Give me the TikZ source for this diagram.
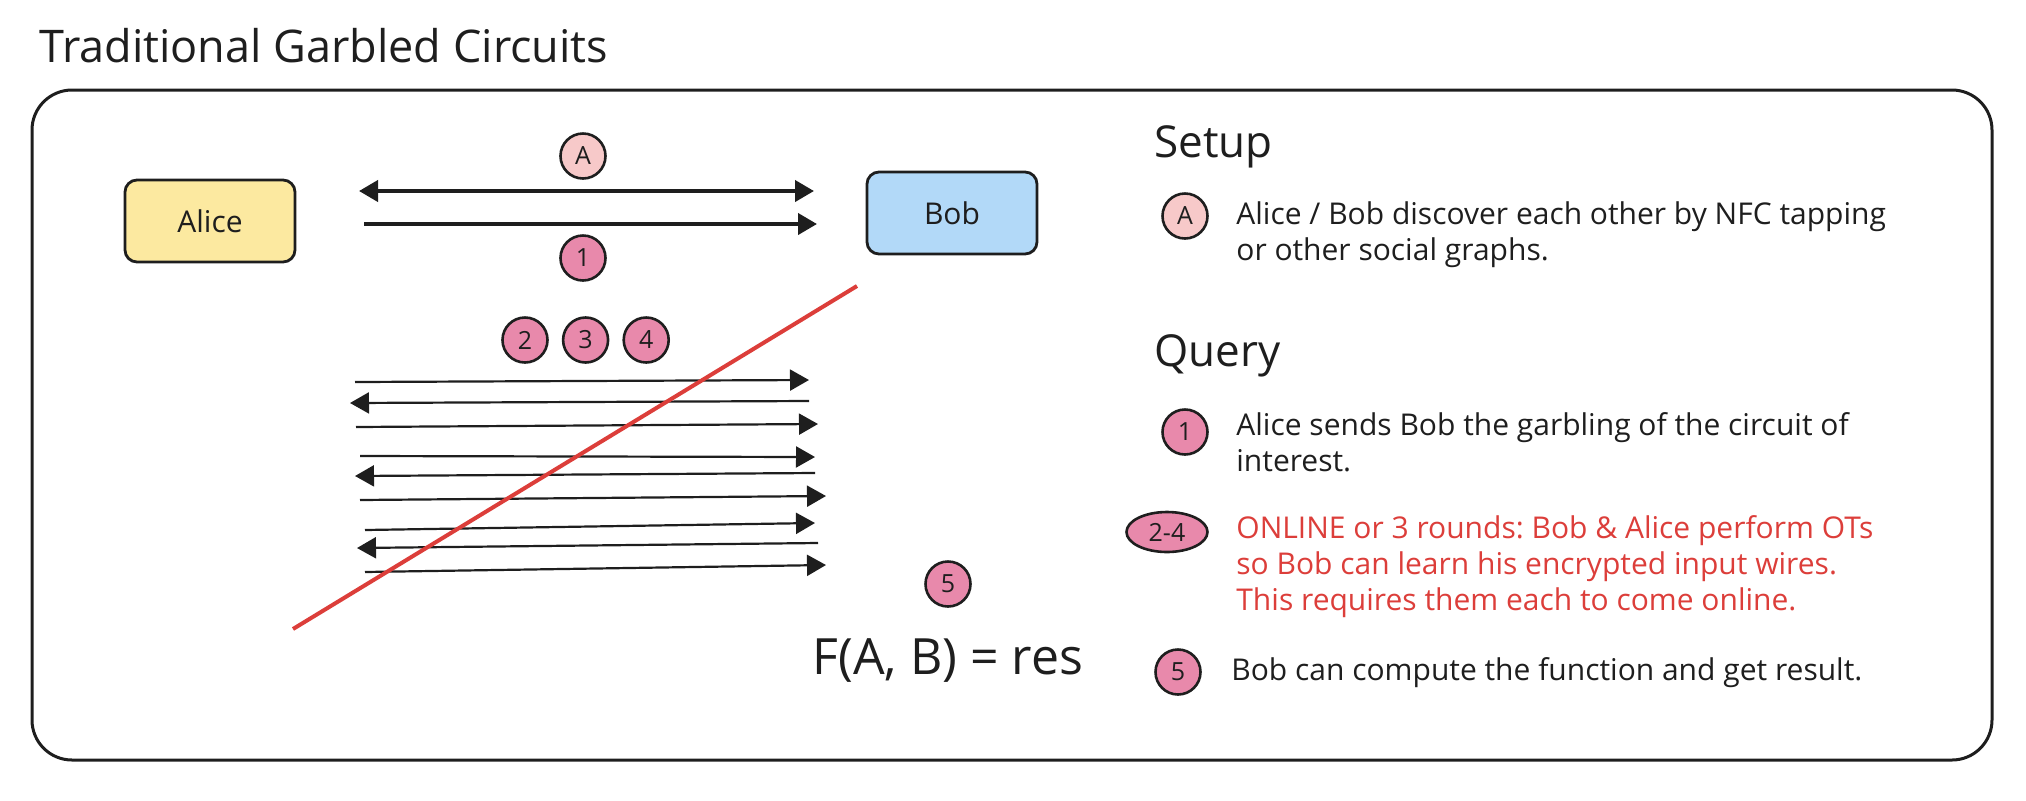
\documentclass[tikz,border=0pt]{standalone}
\usepackage{fontspec}
\setmainfont{Open Sans}
\usetikzlibrary{positioning}
\usetikzlibrary{shapes.geometric}
\usetikzlibrary{arrows.meta}
\frenchspacing

\definecolor{ink}{HTML}{1E1E1E}
\definecolor{aliceyellow}{HTML}{FCE9A0}
\definecolor{bobblue}{HTML}{B2D9F8}
\definecolor{badgelight}{HTML}{F7C9C9}
\definecolor{badgepink}{HTML}{E889AB}
\definecolor{warnred}{HTML}{DC3E3A}

\begin{document}
\begin{tikzpicture}[x=0.5pt,y=-0.5pt,>={Triangle[length=9.5pt,width=10.5pt]},draw=ink,text=ink]
\tikzstyle{party}=[draw=ink,line width=1.4pt,rounded corners=6pt,minimum width=85pt,minimum height=41pt,font=\fontsize{15}{17}\selectfont]
\tikzstyle{badge}=[circle,draw=ink,line width=1.3pt,minimum size=22.5pt,inner sep=0pt,font=\fontsize{12.5}{14}\selectfont]
\tikzstyle{txt}=[anchor=base west,align=left,inner sep=0pt,font=\fontsize{15}{18}\selectfont]
\tikzstyle{head}=[anchor=base west,inner sep=0pt,font=\fontsize{22}{26}\selectfont]
\tikzstyle{wire}=[line width=1.1pt]
\tikzstyle{talk}=[line width=2pt]

\useasboundingbox (0,0) rectangle (2026,800);

% title and frame
\node[head,font=\fontsize{22.5}{26}\selectfont] (title) at (39,62) {Traditional Garbled Circuits};
\draw[line width=1.5pt,rounded corners=20pt] (32,90) rectangle (1992,760);

% parties
\node[party,fill=aliceyellow]	(alice)	at (210,221)	{Alice};
\node[party,fill=bobblue]	(bob)	at (952,213)	{Bob};

\coordinate (dA1) at (359,191);	\coordinate (dA2) at (814,191);
\coordinate (d11) at (364,224);	\coordinate (d12) at (817,224);
\node[badge,fill=badgelight]	(bA)	at (583,156)	{A};
\node[badge,fill=badgepink]	(b1)	at (583,258)	{1};

\path (dA1)	edge[talk,<->]	(dA2)
	 (d11)	edge[talk,->]	(d12);

% OT rounds
\node[badge,fill=badgepink]	(b2)	at (525,340)	{2};
\node[badge,fill=badgepink]	(b3)	[right=6.5pt of b2]	{3};
\node[badge,fill=badgepink]	(b4)	[right=6.5pt of b3]	{4};

\coordinate (wl1) at (355,382);	\coordinate (wr1) at (809,380);
\coordinate (wl2) at (350,403);	\coordinate (wr2) at (809,401);
\coordinate (wl3) at (356,427);	\coordinate (wr3) at (818,424);
\coordinate (wl4) at (360,456);	\coordinate (wr4) at (815,457);
\coordinate (wl5) at (355,476);	\coordinate (wr5) at (815,473);
\coordinate (wl6) at (360,500);	\coordinate (wr6) at (826,496);
\coordinate (wl7) at (365,530);	\coordinate (wr7) at (815,523);
\coordinate (wl8) at (357,548);	\coordinate (wr8) at (818,543);
\coordinate (wl9) at (365,572);	\coordinate (wr9) at (826,565);

\path (wl1)	edge[wire,->]	(wr1)
	 (wr2)	edge[wire,->]	(wl2)
	 (wl3)	edge[wire,->]	(wr3)
	 (wl4)	edge[wire,->]	(wr4)
	 (wr5)	edge[wire,->]	(wl5)
	 (wl6)	edge[wire,->]	(wr6)
	 (wl7)	edge[wire,->]	(wr7)
	 (wr8)	edge[wire,->]	(wl8)
	 (wl9)	edge[wire,->]	(wr9);

% struck out
\coordinate (cutA) at (293,629);	\coordinate (cutB) at (857,286);
\draw[warnred,line width=2pt] (cutA) -- (cutB);

% result
\node[badge,fill=badgepink]	(b5)	at (948,584)	{5};
\node[inner sep=0pt,font=\fontsize{25}{28}\selectfont]	(res)	[below=15pt of b5]	{F(A, B) = res};

% notes (base = last line)
\node[head]	(setup)	at (1154,157)	{Setup};
\node[badge,fill=badgelight]	(nA)	at (1185,216)	{A};
\node[txt]	(nAtxt)	at (1236,260)	{Alice / Bob discover each other by NFC tapping\\or other social graphs.};

\node[head]	(query)	at (1154,366)	{Query};
\node[badge,fill=badgepink]	(n1)	at (1185,432)	{1};
\node[txt]	(n1txt)	at (1236,471)	{Alice sends Bob the garbling of the circuit of\\interest.};
\node[ellipse,draw=ink,line width=1.3pt,fill=badgepink,minimum width=40.5pt,minimum height=20pt,inner sep=0pt,font=\fontsize{12.5}{14}\selectfont]	(n24)	at (1167,532)	{2-4};
\node[txt,text=warnred]	(n24txt)	at (1236,610)	{ONLINE or 3 rounds: Bob \& Alice perform OTs\\so Bob can learn his encrypted input wires.\\This requires them each to come online.};
\node[badge,fill=badgepink]	(n5)	at (1178,672)	{5};
\node[txt]	(n5txt)	at (1231,680)	{Bob can compute the function and get result.};
\end{tikzpicture}
\end{document}
